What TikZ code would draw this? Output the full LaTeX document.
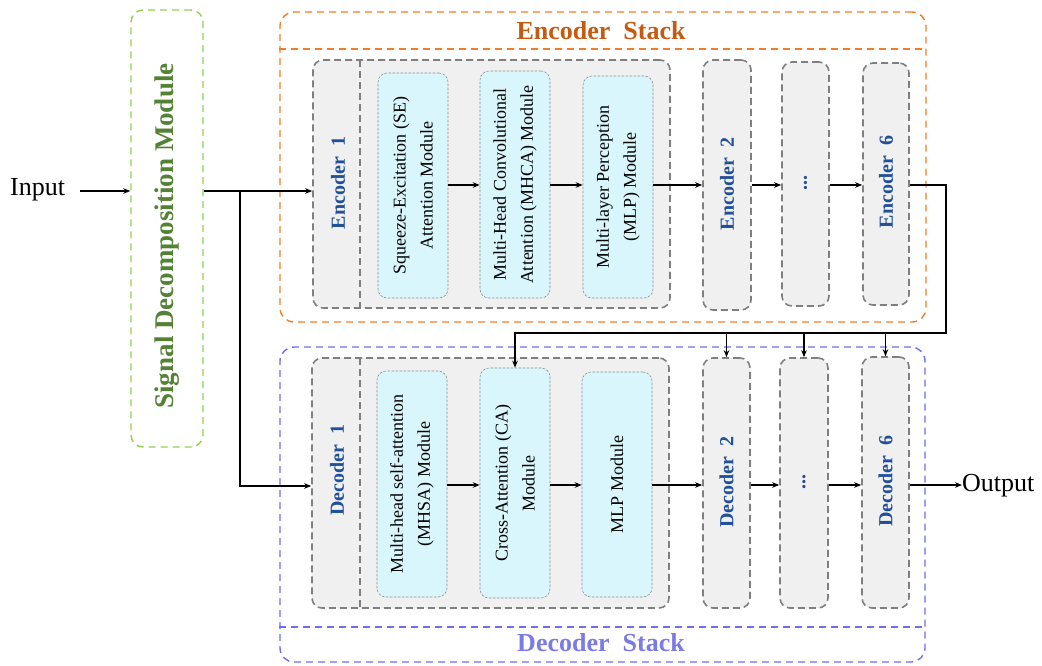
\documentclass[tikz,border=0pt]{standalone}
\usepackage{fontspec}
\setmainfont{Liberation Serif}
\usetikzlibrary{arrows.meta}
\definecolor{sdmborder}{HTML}{92D050}
\definecolor{sdmtext}{HTML}{548235}
\definecolor{encborder}{HTML}{F47C24}
\definecolor{enctitle}{HTML}{C55A11}
\definecolor{decborder}{HTML}{6E6EEE}
\definecolor{dectitle}{HTML}{7B7BE6}
\definecolor{blocktext}{HTML}{21509A}
\definecolor{grayborder}{HTML}{7F7F7F}
\definecolor{grayfill}{HTML}{F0F0F0}
\definecolor{cyanfill}{HTML}{D8F6FC}
\definecolor{cyanborder}{HTML}{8C8C8C}
\tikzset{
  blockbox/.style={draw=grayborder, fill=grayfill, line width=1.6pt, dash pattern=on 7pt off 4pt, rounded corners=10pt},
  modbox/.style={draw=cyanborder, fill=cyanfill, line width=0.6pt, dash pattern=on 2.5pt off 1.5pt, rounded corners=9pt},
  modtext/.style={rotate=90, align=center, font=\fontsize{18}{27}\selectfont},
  blocktxt/.style={rotate=90, font=\fontsize{20}{24}\selectfont\bfseries, text=blocktext},
  arr/.style={line width=1.3pt, -{Stealth[length=7pt,width=5.5pt]}},
  iotext/.style={font=\fontsize{26}{30}\selectfont},
}
\begin{document}
\begin{tikzpicture}[x=1pt,y=-1pt]
\useasboundingbox (0,0) rectangle (1042,665);
% signal decomposition
\node[draw=sdmborder, line width=1.4pt, dash pattern=on 7pt off 5pt, rounded corners=12pt, minimum width=72pt, minimum height=437pt, inner sep=0pt] (sdm) at (167,228.5) {};
\node[rotate=90, text=sdmtext, font=\fontsize{27}{30}\selectfont\bfseries] (sdmlbl) at (167,236) {Signal Decomposition Module};
% stacks
\node[draw=encborder, line width=1.4pt, dash pattern=on 7pt off 5pt, rounded corners=14pt, minimum width=646pt, minimum height=310pt, inner sep=0pt] (encstack) at (603,167) {};
\draw[draw=encborder, line width=1.4pt, dash pattern=on 7pt off 5pt] (encstack.west |- 0,49) -- (encstack.east |- 0,49);
\node[text=enctitle, font=\fontsize{26}{30}\selectfont\bfseries] (enctitle) at (601,31) {Encoder\ \ Stack};
\node[draw=decborder, line width=1.4pt, dash pattern=on 7pt off 5pt, rounded corners=14pt, minimum width=645pt, minimum height=315pt, inner sep=0pt] (decstack) at (602.5,504.5) {};
\draw[draw=decborder, line width=1.4pt, dash pattern=on 7pt off 5pt] (decstack.west |- 0,627) -- (decstack.east |- 0,627);
\node[text=dectitle, font=\fontsize{26}{30}\selectfont\bfseries] (dectitle) at (601,643) {Decoder\ \ Stack};
% encoder blocks
\node[blockbox, minimum width=357pt, minimum height=248pt, inner sep=0pt] (enc1) at (491.5,184) {};
\draw[draw=grayborder, line width=1.6pt, dash pattern=on 7pt off 4pt] (360,60) -- (360,308);
\node[blocktxt] (enc1lbl) at (338,183) {Encoder\ \ 1};
\node[modbox, minimum width=70pt, minimum height=225pt, inner sep=0pt] (se) at (413,185.5) {};
\node[modbox, minimum width=70pt, minimum height=227pt, inner sep=0pt] (mhca) at (515,184.5) {};
\node[modbox, minimum width=70pt, minimum height=222pt, inner sep=0pt] (mlp) at (618,187) {};
\node[modtext] (selbl) at (se) {Squeeze-Excitation (SE)\\Attention Module};
\node[modtext] (mhcalbl) at (mhca) {Multi-Head Convolutional\\Attention (MHCA) Module};
\node[modtext] (mlplbl) at (mlp) {Multi-layer Perception\\(MLP) Module};
\node[blockbox, minimum width=48pt, minimum height=250pt, inner sep=0pt] (enc2) at (727,185) {};
\node[blockbox, minimum width=47pt, minimum height=244pt, inner sep=0pt] (encd) at (805.5,184) {};
\node[blockbox, minimum width=46pt, minimum height=242pt, inner sep=0pt] (enc6) at (886,184) {};
\node[blocktxt] (enc2lbl) at (727,184) {Encoder\ \ 2};
\node[blocktxt] (encdlbl) at (805.5,183) {...};
\node[blocktxt] (enc6lbl) at (886,182) {Encoder\ \ 6};
% decoder blocks
\node[blockbox, minimum width=357pt, minimum height=250pt, inner sep=0pt] (dec1) at (490.5,483) {};
\draw[draw=grayborder, line width=1.6pt, dash pattern=on 7pt off 4pt] (360,358) -- (360,608);
\node[blocktxt] (dec1lbl) at (337,470) {Decoder\ \ 1};
\node[modbox, minimum width=70pt, minimum height=226pt, inner sep=0pt] (mhsa) at (412,484) {};
\node[modbox, minimum width=70pt, minimum height=230pt, inner sep=0pt] (ca) at (515,483) {};
\node[modbox, minimum width=70pt, minimum height=225pt, inner sep=0pt] (mlpm) at (617,484.5) {};
\node[modtext] (mhsalbl) at (mhsa) {Multi-head self-attention\\(MHSA) Module};
\node[modtext] (calbl) at (ca) {Cross-Attention (CA)\\Module};
\node[modtext] (mlpmlbl) at (mlpm) {MLP Module};
\node[blockbox, minimum width=47pt, minimum height=250pt, inner sep=0pt] (dec2) at (726.5,483) {};
\node[blockbox, minimum width=48pt, minimum height=250pt, inner sep=0pt] (decd) at (804,483) {};
\node[blockbox, minimum width=47pt, minimum height=251pt, inner sep=0pt] (dec6) at (885.5,482.5) {};
\node[blocktxt] (dec2lbl) at (726.5,482) {Decoder\ \ 2};
\node[blocktxt] (decdlbl) at (804,482) {...};
\node[blocktxt] (dec6lbl) at (885.5,481) {Decoder\ \ 6};
% io
\node[iotext, anchor=west, inner sep=0pt] (input) at (10,190) {Input};
\node[iotext, anchor=west, inner sep=0pt] (output) at (962,486) {Output};
% coordinates
\coordinate (erow) at (0,185);
\coordinate (drow) at (0,485);
\coordinate (inrow) at (0,191);
\coordinate (instart) at (80,191);
\coordinate (br) at (240,191);
\coordinate (brd) at (240,486);
\coordinate (eout) at (946,185);
\coordinate (ebus) at (946,333);
\coordinate (bus) at (0,333);
% connectors
\draw[arr] (instart) -- (sdm.west |- inrow);
\draw[arr] (sdm.east |- inrow) -- (enc1.west |- inrow);
\draw[arr] (br) -- (brd) -- (dec1.west |- brd);
\draw[arr] (se.east |- erow) -- (mhca.west |- erow);
\draw[arr] (mhca.east |- erow) -- (mlp.west |- erow);
\draw[arr] (mlp.east |- erow) -- (enc2.west |- erow);
\draw[arr] (enc2.east |- erow) -- (encd.west |- erow);
\draw[arr] (encd.east |- erow) -- (enc6.west |- erow);
\draw[arr] (enc6.east |- erow) -- (eout) -- (ebus) -- (ca.north |- bus) -- (ca.north);
\draw[arr] (dec2.north |- bus) -- (dec2.north);
\draw[arr] (decd.north |- bus) -- (decd.north);
\draw[arr] (dec6.north |- bus) -- (dec6.north);
\draw[arr] (mhsa.east |- drow) -- (ca.west |- drow);
\draw[arr] (ca.east |- drow) -- (mlpm.west |- drow);
\draw[arr] (mlpm.east |- drow) -- (dec2.west |- drow);
\draw[arr] (dec2.east |- drow) -- (decd.west |- drow);
\draw[arr] (decd.east |- drow) -- (dec6.west |- drow);
\draw[arr] (dec6.east |- drow) -- (output.west |- drow);
\end{tikzpicture}
\end{document}
